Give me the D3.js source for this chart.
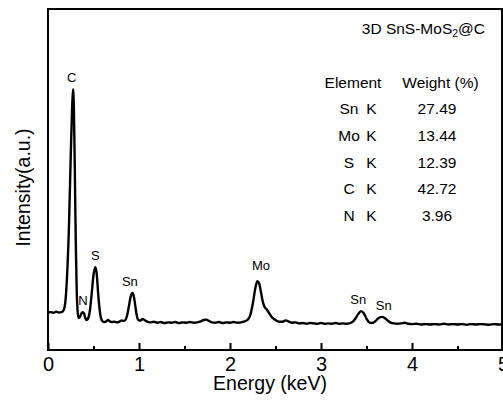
<!DOCTYPE html>
<html>
<head>
<meta charset="utf-8">
<script src="https://cdn.jsdelivr.net/npm/d3@7"></script>
<style>
  html, body { margin: 0; padding: 0; background: #fff; }
  svg { display: block; font-family: "Liberation Sans", Arial, Helvetica, sans-serif; }
  text { fill: #000; }
</style>
</head>
<body>
<svg id="chart" width="503" height="403"></svg>
<script>
// EDS spectrum of 3D SnS-MoS2@C: energy (keV) and intensity (a.u.)
const energyKeV = [
  0.00, 0.03, 0.06, 0.09, 0.12, 0.15, 0.17, 0.19, 0.21, 0.23, 0.25, 0.265, 0.275, 0.285, 0.295, 0.305,
  0.315, 0.325, 0.335, 0.35, 0.365, 0.38, 0.395, 0.41, 0.425, 0.44, 0.46, 0.48, 0.50, 0.52, 0.535, 0.55,
  0.565, 0.58, 0.60, 0.62, 0.645, 0.66, 0.68, 0.70, 0.73, 0.76, 0.79, 0.81, 0.83, 0.85, 0.87, 0.89,
  0.91, 0.93, 0.945, 0.96, 0.975, 0.99, 1.01, 1.04, 1.06, 1.09, 1.12, 1.16, 1.20, 1.24, 1.28, 1.32,
  1.36, 1.40, 1.44, 1.48, 1.52, 1.56, 1.60, 1.64, 1.68, 1.71, 1.74, 1.77, 1.80, 1.84, 1.88, 1.92,
  1.96, 2.00, 2.04, 2.08, 2.12, 2.16, 2.19, 2.22, 2.25, 2.28, 2.30, 2.32, 2.34, 2.36, 2.38, 2.40,
  2.43, 2.46, 2.50, 2.54, 2.58, 2.61, 2.64, 2.68, 2.72, 2.76, 2.80, 2.84, 2.88, 2.92, 2.96, 3.00,
  3.04, 3.08, 3.12, 3.16, 3.20, 3.24, 3.28, 3.32, 3.35, 3.38, 3.41, 3.44, 3.47, 3.50, 3.53, 3.56,
  3.60, 3.63, 3.67, 3.70, 3.73, 3.76, 3.80, 3.84, 3.88, 3.92, 3.96, 4.00, 4.05, 4.10, 4.15, 4.20,
  4.25, 4.30, 4.35, 4.40, 4.45, 4.50, 4.55, 4.60, 4.65, 4.70, 4.75, 4.80, 4.85, 4.90, 4.95, 5.00
];
const intensity = [
  11.0, 11.1, 10.9, 11.2, 11.0, 11.1, 11.6, 14.0, 22.0, 36.0, 57.0, 71.0, 76.5, 70.0, 52.0, 32.0,
  18.0, 11.5, 9.4, 9.6, 10.6, 11.1, 10.8, 9.4, 8.8, 9.2, 11.5, 16.5, 22.0, 24.3, 22.5, 17.0,
  12.5, 9.6, 8.4, 8.2, 8.5, 8.8, 8.4, 8.2, 8.3, 8.1, 8.4, 8.7, 8.5, 8.8, 10.2, 13.0,
  15.8, 16.7, 15.5, 12.8, 10.2, 8.9, 8.6, 9.1, 8.8, 8.3, 8.1, 8.3, 8.0, 8.2, 7.9, 8.1,
  8.0, 8.2, 7.9, 8.1, 8.0, 8.2, 8.0, 8.1, 8.4, 8.8, 8.9, 8.5, 8.1, 8.0, 8.2, 7.9,
  8.1, 8.0, 8.2, 8.0, 8.1, 8.4, 8.8, 10.0, 13.5, 18.3, 20.2, 19.6, 17.0, 14.2, 12.6, 12.0,
  10.8, 9.6, 8.8, 8.3, 8.3, 8.7, 8.4, 8.0, 8.1, 7.8, 7.9, 7.7, 7.9, 7.8, 7.7, 7.9,
  7.7, 7.8, 7.7, 7.9, 7.7, 7.8, 7.7, 7.9, 8.3, 9.3, 10.6, 11.4, 10.8, 9.2, 8.1, 7.9,
  8.5, 9.3, 9.7, 9.4, 8.7, 8.1, 7.8, 7.7, 7.8, 8.0, 7.7, 7.6, 7.7, 7.5, 7.6, 7.5,
  7.6, 7.5, 7.7, 7.5, 7.6, 7.5, 7.6, 7.4, 7.6, 7.5, 7.6, 7.5, 7.4, 7.6, 7.5, 7.5
];

// Peak assignments drawn above the spectrum
const peakNames = ["C", "N", "S", "Sn", "Mo", "Sn", "Sn"];
const peakLabelKeV = [0.26, 0.385, 0.52, 0.90, 2.34, 3.41, 3.69];
const peakLabelLevel = [76.5, 11.1, 24.3, 16.7, 21.5, 11.4, 9.7];

// Composition table
const tableElements = ["Sn", "Mo", "S", "C", "N"];
const tableLines = ["K", "K", "K", "K", "K"];
const tableWeights = ["27.49", "13.44", "12.39", "42.72", "3.96"];

const majorTicks = [0, 1, 2, 3, 4, 5];
const minorTicks = [0.5, 1.5, 2.5, 3.5, 4.5];

const svg = d3.select("#chart");
const W = 503, H = 403;
const plotL = 48, plotR = 502, plotT = 9, plotB = 350;

const x = d3.scaleLinear().domain([0, 5]).range([plotL, 503]);
const y = d3.scaleLinear().domain([0, 100]).range([plotB, plotT]);

svg.append("rect").attr("width", W).attr("height", H).attr("fill", "#fff");

// clip to the plot frame
svg.append("clipPath").attr("id", "plotClip")
  .append("rect").attr("x", plotL).attr("y", plotT)
  .attr("width", plotR - plotL).attr("height", plotB - plotT);

const pts = energyKeV.map((e, i) => [e, intensity[i]]);
const line = d3.line().x(d => x(d[0])).y(d => y(d[1])).curve(d3.curveMonotoneX);

svg.append("path")
  .datum(pts)
  .attr("clip-path", "url(#plotClip)")
  .attr("d", line)
  .attr("fill", "none")
  .attr("stroke", "#000")
  .attr("stroke-width", 2.4)
  .attr("stroke-linejoin", "round");

// bottom axis: inward ticks
const axisMajor = d3.axisBottom(x).tickValues(majorTicks).tickSize(-7).tickPadding(6.5)
  .tickFormat(d3.format("d"));
const gMajor = svg.append("g").attr("transform", `translate(0,${plotB})`).call(axisMajor);
gMajor.select(".domain").remove();
gMajor.selectAll(".tick line").attr("stroke", "#000").attr("stroke-width", 2);
gMajor.selectAll(".tick text")
  .attr("font-size", 20).attr("fill", "#000")
  .attr("font-family", "'Liberation Sans', Arial, sans-serif");

const axisMinor = d3.axisBottom(x).tickValues(minorTicks).tickSize(-4).tickFormat("");
const gMinor = svg.append("g").attr("transform", `translate(0,${plotB})`).call(axisMinor);
gMinor.select(".domain").remove();
gMinor.selectAll(".tick line").attr("stroke", "#000").attr("stroke-width", 2);

// frame
svg.append("rect")
  .attr("x", plotL).attr("y", plotT)
  .attr("width", plotR - plotL).attr("height", plotB - plotT)
  .attr("fill", "none").attr("stroke", "#000").attr("stroke-width", 2);

// axis titles
svg.append("text")
  .attr("x", 270).attr("y", 390)
  .attr("text-anchor", "middle").attr("font-size", 19.5)
  .text("Energy (keV)");

svg.append("text")
  .attr("transform", "translate(29.5,187.5) rotate(-90)")
  .attr("text-anchor", "middle").attr("font-size", 19.5)
  .text("Intensity(a.u.)");

// peak labels
svg.append("g").selectAll("text")
  .data(peakNames)
  .join("text")
  .attr("x", (d, i) => x(peakLabelKeV[i]))
  .attr("y", (d, i) => y(peakLabelLevel[i]) - 7)
  .attr("text-anchor", "middle")
  .attr("font-size", 13)
  .attr("fill", "#000")
  .text(d => d);

// sample name
const title = svg.append("text")
  .attr("x", 485).attr("y", 33.5)
  .attr("text-anchor", "end").attr("font-size", 15.5);
title.append("tspan").text("3D SnS-MoS");
title.append("tspan").attr("font-size", 10.5).attr("dy", 3.5).text("2");
title.append("tspan").attr("dy", -3.5).text("@C");

// composition table
const rowY = d3.scaleLinear().domain([0, 1]).range([87.5, 114.2]);
const fs = 15.5;
svg.append("text").attr("x", 353).attr("y", rowY(0)).attr("text-anchor", "middle")
  .attr("font-size", fs).text("Element");
svg.append("text").attr("x", 440.5).attr("y", rowY(0)).attr("text-anchor", "middle")
  .attr("font-size", fs).text("Weight (%)");

const rows = svg.append("g").selectAll("g")
  .data(tableElements)
  .join("g")
  .attr("transform", (d, i) => `translate(0,${rowY(i + 1)})`);
rows.append("text").attr("x", 349).attr("text-anchor", "middle").attr("font-size", fs)
  .text(d => d);
rows.append("text").attr("x", 371.5).attr("text-anchor", "middle").attr("font-size", fs)
  .text((d, i) => tableLines[i]);
rows.append("text").attr("x", 437).attr("text-anchor", "middle").attr("font-size", fs)
  .text((d, i) => tableWeights[i]);
</script>
</body>
</html>
